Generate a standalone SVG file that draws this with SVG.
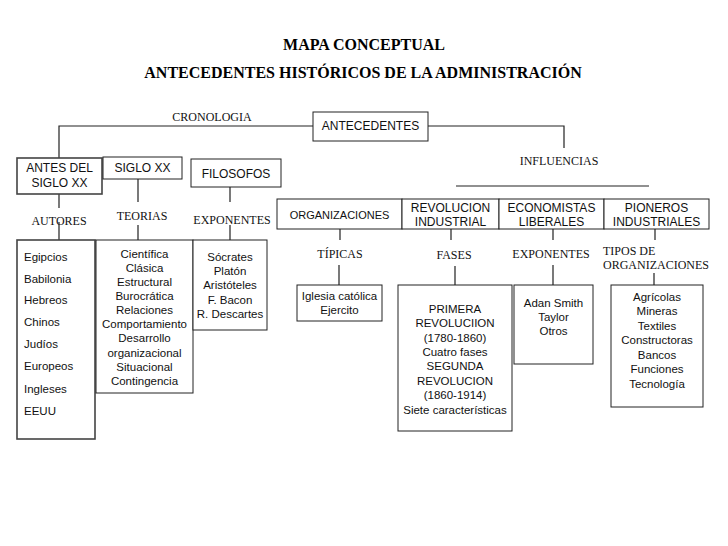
<svg xmlns="http://www.w3.org/2000/svg" width="728" height="546" viewBox="0 0 728 546">
<style>
.bx{fill:#fff;stroke:#222;stroke-width:1}
.bx2{fill:#fff;stroke:#444;stroke-width:1.6}
.ln{fill:none;stroke:#222;stroke-width:1.2}
.h{font-family:"Liberation Sans",Arial,sans-serif;font-size:12px;fill:#111;text-anchor:middle}
.l{font-family:"Liberation Sans",Arial,sans-serif;font-size:11.5px;fill:#111;text-anchor:middle}
.ll{font-family:"Liberation Sans",Arial,sans-serif;font-size:11.5px;fill:#111}
.s{font-family:"Liberation Serif","Times New Roman",serif;font-size:12px;fill:#111;text-anchor:middle}
.t{font-family:"Liberation Serif","Times New Roman",serif;font-size:16px;font-weight:bold;fill:#000;text-anchor:middle}
</style>
<rect width="728" height="546" fill="#fff"/>
<g id="title">
<text class="t" x="364" y="50">MAPA CONCEPTUAL</text>
<text class="t" x="363" y="78">ANTECEDENTES HISTÓRICOS DE LA ADMINISTRACIÓN</text>
</g>
<g id="connectors">
<path class="ln" d="M59,158 V126 H313 M428,126 H564 V148"/>
<path class="ln" d="M456,186 H649"/>
<path class="ln" d="M59,194 V208 M59,222 V240"/>
<path class="ln" d="M138,179 V202 M138,225 V240"/>
<path class="ln" d="M230,187 V202 M230,225 V240"/>
<path class="ln" d="M340,229 V240 M339,265 V285"/>
<path class="ln" d="M451,229 V240 M455,266 V285"/>
<path class="ln" d="M553,229 V240 M553,265 V285"/>
<path class="ln" d="M655,229 V240 M654,273 V285"/>
</g>
<g id="labels">
<text class="s" x="212" y="121">CRONOLOGIA</text>
<text class="s" x="559" y="165">INFLUENCIAS</text>
<text class="s" x="59" y="225">AUTORES</text>
<text class="s" x="142" y="220">TEORIAS</text>
<text class="s" x="232" y="224">EXPONENTES</text>
<text class="s" x="340" y="258">TÍPICAS</text>
<text class="s" x="454" y="259">FASES</text>
<text class="s" x="551" y="258">EXPONENTES</text>
<text class="s" x="603" y="255" style="text-anchor:start">TIPOS DE</text>
<text class="s" x="603" y="269" style="text-anchor:start">ORGANIZACIONES</text>
</g>
<g id="antecedentes">
<rect class="bx" x="313" y="112" width="115" height="29"/>
<text class="h" x="370.5" y="130">ANTECEDENTES</text>
</g>
<g id="antes-siglo-xx">
<rect class="bx2" x="17" y="158" width="85" height="36"/>
<text class="h" x="59.5" y="172">ANTES DEL</text>
<text class="h" x="59.5" y="187">SIGLO XX</text>
</g>
<g id="siglo-xx">
<rect class="bx" x="103" y="157" width="79" height="22"/>
<text class="h" x="142.5" y="172">SIGLO XX</text>
</g>
<g id="filosofos">
<rect class="bx" x="191" y="159" width="90" height="28"/>
<text class="h" x="236" y="178">FILOSOFOS</text>
</g>
<g id="organizaciones">
<rect class="bx" x="277" y="199" width="125" height="30"/>
<text class="h" x="339.5" y="219" style="font-size:11px">ORGANIZACIONES</text>
</g>
<g id="revolucion-industrial">
<rect class="bx" x="402" y="199" width="97" height="30"/>
<text class="h" x="450.5" y="212">REVOLUCION</text>
<text class="h" x="450.5" y="226">INDUSTRIAL</text>
</g>
<g id="economistas-liberales">
<rect class="bx" x="499" y="199" width="105" height="30"/>
<text class="h" x="551.5" y="212">ECONOMISTAS</text>
<text class="h" x="551.5" y="226">LIBERALES</text>
</g>
<g id="pioneros-industriales">
<rect class="bx" x="604" y="199" width="105" height="30"/>
<text class="h" x="656.5" y="212">PIONEROS</text>
<text class="h" x="656.5" y="226">INDUSTRIALES</text>
</g>
<g id="autores-list">
<rect class="bx2" x="17" y="240" width="78" height="199"/>
<text class="ll" x="24" y="261">Egipcios</text>
<text class="ll" x="24" y="283">Babilonia</text>
<text class="ll" x="24" y="304">Hebreos</text>
<text class="ll" x="24" y="326">Chinos</text>
<text class="ll" x="24" y="348">Judíos</text>
<text class="ll" x="24" y="370">Europeos</text>
<text class="ll" x="24" y="393">Ingleses</text>
<text class="ll" x="24" y="415">EEUU</text>
</g>
<g id="teorias-list">
<rect class="bx" x="96" y="240" width="97" height="153"/>
<text class="l" x="144.5" y="258">Científica</text>
<text class="l" x="144.5" y="272">Clásica</text>
<text class="l" x="144.5" y="286">Estructural</text>
<text class="l" x="144.5" y="300">Burocrática</text>
<text class="l" x="144.5" y="314">Relaciones</text>
<text class="l" x="144.5" y="328">Comportamiento</text>
<text class="l" x="144.5" y="342">Desarrollo</text>
<text class="l" x="144.5" y="357">organizacional</text>
<text class="l" x="144.5" y="371">Situacional</text>
<text class="l" x="144.5" y="385">Contingencia</text>
</g>
<g id="filosofos-list">
<rect class="bx" x="193" y="240" width="74" height="90"/>
<text class="l" x="230" y="261">Sócrates</text>
<text class="l" x="230" y="275">Platón</text>
<text class="l" x="230" y="289">Aristóteles</text>
<text class="l" x="230" y="304">F. Bacon</text>
<text class="l" x="230" y="318">R. Descartes</text>
</g>
<g id="tipicas-list">
<rect class="bx" x="297" y="285" width="85" height="36"/>
<text class="l" x="339.5" y="300">Iglesia católica</text>
<text class="l" x="339.5" y="314">Ejercito</text>
</g>
<g id="fases-list">
<rect class="bx" x="398" y="285" width="114" height="146"/>
<text class="l" x="455" y="313">PRIMERA</text>
<text class="l" x="455" y="327">REVOLUCIION</text>
<text class="l" x="455" y="342">(1780-1860)</text>
<text class="l" x="455" y="356">Cuatro fases</text>
<text class="l" x="455" y="370">SEGUNDA</text>
<text class="l" x="455" y="385">REVOLUCION</text>
<text class="l" x="455" y="399">(1860-1914)</text>
<text class="l" x="455" y="414">Siete características</text>
</g>
<g id="economistas-list">
<rect class="bx" x="514" y="285" width="79" height="79"/>
<text class="l" x="553.5" y="307">Adan Smith</text>
<text class="l" x="553.5" y="321">Taylor</text>
<text class="l" x="553.5" y="335">Otros</text>
</g>
<g id="tipos-list">
<rect class="bx" x="611" y="285" width="92" height="122"/>
<text class="l" x="657" y="301">Agrícolas</text>
<text class="l" x="657" y="315">Mineras</text>
<text class="l" x="657" y="330">Textiles</text>
<text class="l" x="657" y="344">Constructoras</text>
<text class="l" x="657" y="359">Bancos</text>
<text class="l" x="657" y="373">Funciones</text>
<text class="l" x="657" y="388">Tecnología</text>
</g>
</svg>
